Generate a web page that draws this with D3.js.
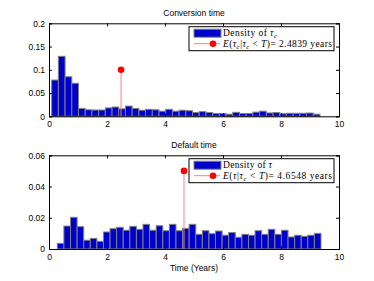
<!DOCTYPE html>
<html>
<head>
<meta charset="utf-8">
<script src="https://cdn.jsdelivr.net/npm/d3@7"></script>
<style>
  body { margin: 0; background: #fff; }
  text { font-family: "Liberation Sans", Arial, sans-serif; }
</style>
</head>
<body>
<div id="chart"></div>
<script>
// ---- data ----
var xTicks = [0, 2, 4, 6, 8, 10];

var convBinStart = 0.092, convBinWidth = 0.2313;
var convDensity = [0.078, 0.129, 0.085, 0.071, 0.017, 0.014, 0.0135, 0.0135, 0.018, 0.020,
                   0.016, 0.022, 0.017, 0.013, 0.015, 0.014, 0.011, 0.015, 0.011, 0.013,
                   0.012, 0.008, 0.010, 0.008, 0.006, 0.006, 0.0045, 0.0085, 0.006, 0.006,
                   0.009, 0.011, 0.0072, 0.008, 0.0055, 0.0065, 0.0065, 0.0065, 0.007, 0.0045];
var convTicks = [0, 0.05, 0.1, 0.15, 0.2];
var convMean = 2.4839, convStem = 0.1;

var defBinStart = 0.287, defBinWidth = 0.2273;
var defDensity = [0.0036, 0.0147, 0.0203, 0.0143, 0.0056, 0.0068, 0.0049, 0.0109, 0.013, 0.0139,
                  0.012, 0.0145, 0.0126, 0.0158, 0.012, 0.0149, 0.0117, 0.0158, 0.0117, 0.0132,
                  0.0158, 0.0094, 0.0117, 0.0098, 0.0115, 0.0088, 0.0105, 0.0075, 0.0094, 0.0088,
                  0.0117, 0.0094, 0.0126, 0.0094, 0.012, 0.0077, 0.0088, 0.0081, 0.0088, 0.01];
var defTicks = [0, 0.02, 0.04, 0.06];
var defMean = 4.6548, defStem = 0.05;

// ---- layout ----
var W = 374, H = 281;
var svg = d3.select("#chart").append("svg")
    .attr("width", W)
    .attr("height", H);

var left = 49, right = 339;
var serif = "'Liberation Serif', 'Times New Roman', serif";

// legend text pieces: [text, italic, subscript]
function addPieces(t, pieces) {
    pieces.forEach(function (p) {
        var s = t.append("tspan").text(p[0]);
        if (p[1]) s.style("font-style", "italic");
        if (p[2]) s.style("font-size", "7px").style("baseline-shift", "-25%");
    });
}

function panel(opt) {
    var x = d3.scaleLinear().domain([0, 10]).range([left, right]);
    var y = d3.scaleLinear().domain([0, opt.ymax]).range([opt.bottom, opt.top]);
    var g = svg.append("g");

    // bars
    g.append("g").selectAll("rect")
        .data(opt.density)
        .enter()
        .append("rect")
        .attr("x", function (d, i) { return x(opt.start + i * opt.width); })
        .attr("width", function (d, i) { return x(opt.start + (i + 1) * opt.width) - x(opt.start + i * opt.width); })
        .attr("y", function (d) { return y(d); })
        .attr("height", function (d) { return y(0) - y(d); })
        .style("fill", "#0000cd")
        .style("stroke", "#808080")
        .style("stroke-width", 1);

    // stem
    g.append("line")
        .attr("x1", x(opt.mean)).attr("x2", x(opt.mean))
        .attr("y1", y(0)).attr("y2", y(opt.stem))
        .style("stroke", "#ff7f7f")
        .style("stroke-width", 1);
    g.append("circle")
        .attr("cx", x(opt.mean)).attr("cy", y(opt.stem))
        .attr("r", 3.3)
        .style("fill", "#ff0000");

    // axes, ticks pointing inside
    var fmt = function (d) { return d3.format("~g")(d); };
    g.append("g")
        .attr("transform", "translate(0," + opt.bottom + ")")
        .call(d3.axisBottom(x).tickValues(xTicks).tickSize(-3).tickPadding(5).tickFormat(fmt));
    g.append("g")
        .attr("transform", "translate(0," + opt.top + ")")
        .call(d3.axisTop(x).tickValues(xTicks).tickSize(-3).tickFormat(""));
    g.append("g")
        .attr("transform", "translate(" + left + ",0)")
        .call(d3.axisLeft(y).tickValues(opt.yticks).tickSize(-3).tickPadding(4).tickFormat(fmt));
    g.append("g")
        .attr("transform", "translate(" + right + ",0)")
        .call(d3.axisRight(y).tickValues(opt.yticks).tickSize(-3).tickFormat(""));

    g.selectAll(".domain").attr("stroke", "#000").attr("stroke-width", 1);
    g.selectAll(".tick line").attr("stroke", "#000");
    g.selectAll(".tick text")
        .style("font-family", "'Liberation Sans', Arial, sans-serif")
        .style("font-size", "8.5px")
        .attr("fill", "#000");

    // title
    g.append("text")
        .attr("x", (left + right) / 2)
        .attr("y", opt.top - 7)
        .attr("text-anchor", "middle")
        .style("font-size", "8.5px")
        .text(opt.title);

    // legend
    var lx = 189, lw = 145, ly = opt.top + 3.4, lh = 24;
    var lg = g.append("g");
    lg.append("rect")
        .attr("x", lx).attr("y", ly).attr("width", lw).attr("height", lh)
        .style("fill", "#fff").style("stroke", "#000").style("stroke-width", 1);
    lg.append("rect")
        .attr("x", lx + 5).attr("y", ly + 2.5).attr("width", 27).attr("height", 8)
        .style("fill", "#0000cd").style("stroke", "#808080").style("stroke-width", 1);
    lg.append("line")
        .attr("x1", lx + 5).attr("x2", lx + 31)
        .attr("y1", ly + 17).attr("y2", ly + 17)
        .style("stroke", "#ff7f7f").style("stroke-width", 1);
    lg.append("circle")
        .attr("cx", lx + 24).attr("cy", ly + 17).attr("r", 3.3)
        .style("fill", "#ff0000");

    var t1 = lg.append("text")
        .attr("x", lx + 34).attr("y", ly + 9.5)
        .attr("textLength", opt.len1).attr("lengthAdjust", "spacing")
        .style("font-family", serif).style("font-size", "9.5px");
    addPieces(t1, opt.legend1);
    var t2 = lg.append("text")
        .attr("x", lx + 34).attr("y", ly + 20)
        .attr("textLength", 109).attr("lengthAdjust", "spacing")
        .style("font-family", serif).style("font-size", "9.5px");
    addPieces(t2, opt.legend2);
}

panel({
    title: "Conversion time",
    top: 23.3, bottom: 116.3, ymax: 0.2, yticks: convTicks,
    density: convDensity, start: convBinStart, width: convBinWidth,
    mean: convMean, stem: convStem, len1: 54,
    legend1: [["Density of "], ["\u03c4", true], ["c", true, true]],
    legend2: [["E", true], ["("], ["\u03c4", true], ["c", true, true], ["|"],
              ["\u03c4", true], ["c", true, true], [" < "], ["T", true],
              [")= 2.4839 years"]]
});

panel({
    title: "Default time",
    top: 155.3, bottom: 249, ymax: 0.06, yticks: defTicks,
    density: defDensity, start: defBinStart, width: defBinWidth,
    mean: defMean, stem: defStem, len1: 49,
    legend1: [["Density of "], ["\u03c4", true]],
    legend2: [["E", true], ["("], ["\u03c4", true], ["|"],
              ["\u03c4", true], ["c", true, true], [" < "], ["T", true],
              [")= 4.6548 years"]]
});

// x axis label
svg.append("text")
    .attr("x", (left + right) / 2)
    .attr("y", 271)
    .attr("text-anchor", "middle")
    .style("font-size", "8.5px")
    .text("Time (Years)");
</script>
</body>
</html>
